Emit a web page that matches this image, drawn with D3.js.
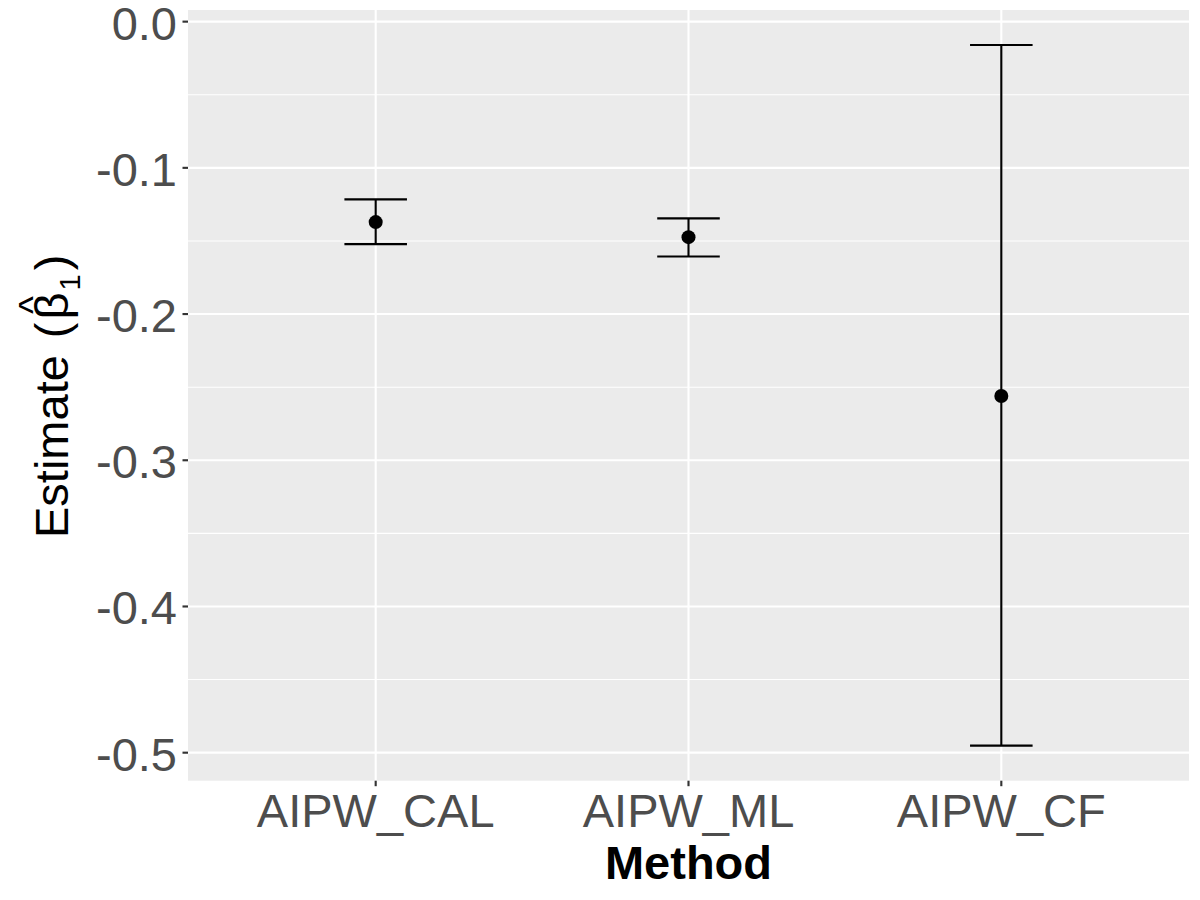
<!DOCTYPE html>
<html>
<head>
<meta charset="utf-8">
<script src="https://cdn.jsdelivr.net/npm/d3@7"></script>
<style>
  html, body { margin: 0; padding: 0; background: #ffffff; }
  svg { display: block; }
  text { font-family: "Liberation Sans", Arial, sans-serif; }
</style>
</head>
<body>
<svg id="chart" width="1200" height="900"></svg>
<script>
// ---- data ----
const methods = ["AIPW_CAL", "AIPW_ML", "AIPW_CF"];
const estimates = [-0.1371, -0.1474, -0.2560];
const lowerCI = [-0.1522, -0.1606, -0.4952];
const upperCI = [-0.1216, -0.1346, -0.0160];
const yTicks = [0.0, -0.1, -0.2, -0.3, -0.4, -0.5];
const yMinor = [-0.05, -0.15, -0.25, -0.35, -0.45];
const yTickLabels = ["0.0", "-0.1", "-0.2", "-0.3", "-0.4", "-0.5"];

// ---- layout ----
const panel = { left: 188, right: 1189, top: 10, bottom: 780.7 };
const svg = d3.select("#chart");

const dMin = d3.min(lowerCI), dMax = d3.max(upperCI);
const pad = (dMax - dMin) * 0.05;
const y = d3.scaleLinear().domain([dMin - pad, dMax + pad]).range([panel.bottom, panel.top]);
const x = d3.scalePoint().domain(methods).range([panel.left, panel.right]).padding(0.6);
const step = x.step();
const capHalf = step * 0.2 / 2;

// panel background
svg.append("rect")
  .attr("x", panel.left).attr("y", panel.top)
  .attr("width", panel.right - panel.left).attr("height", panel.bottom - panel.top)
  .attr("fill", "#EBEBEB");

// minor grid
svg.append("g").selectAll("line").data(yMinor).join("line")
  .attr("x1", panel.left).attr("x2", panel.right)
  .attr("y1", d => y(d)).attr("y2", d => y(d))
  .attr("stroke", "#ffffff").attr("stroke-width", 1.07);

// major grid
svg.append("g").selectAll("line").data(yTicks).join("line")
  .attr("x1", panel.left).attr("x2", panel.right)
  .attr("y1", d => y(d)).attr("y2", d => y(d))
  .attr("stroke", "#ffffff").attr("stroke-width", 2.13);
svg.append("g").selectAll("line").data(methods).join("line")
  .attr("y1", panel.top).attr("y2", panel.bottom)
  .attr("x1", d => x(d)).attr("x2", d => x(d))
  .attr("stroke", "#ffffff").attr("stroke-width", 2.13);

// error bars
const eb = svg.append("g");
methods.forEach((m, i) => {
  const cx = x(m);
  eb.append("line").attr("x1", cx).attr("x2", cx)
    .attr("y1", y(upperCI[i])).attr("y2", y(lowerCI[i]))
    .attr("stroke", "#000").attr("stroke-width", 2.13);
  eb.append("line").attr("x1", cx - capHalf).attr("x2", cx + capHalf)
    .attr("y1", y(upperCI[i])).attr("y2", y(upperCI[i]))
    .attr("stroke", "#000").attr("stroke-width", 2.13);
  eb.append("line").attr("x1", cx - capHalf).attr("x2", cx + capHalf)
    .attr("y1", y(lowerCI[i])).attr("y2", y(lowerCI[i]))
    .attr("stroke", "#000").attr("stroke-width", 2.13);
});

// points
svg.append("g").selectAll("circle").data(methods).join("circle")
  .attr("cx", d => x(d)).attr("cy", (d, i) => y(estimates[i]))
  .attr("r", 7).attr("fill", "#000");

// y axis ticks + labels
const yAx = svg.append("g");
yTicks.forEach((t, i) => {
  yAx.append("line").attr("x1", panel.left - 5.5).attr("x2", panel.left)
    .attr("y1", y(t)).attr("y2", y(t))
    .attr("stroke", "#333333").attr("stroke-width", 2.13);
  yAx.append("text").attr("x", panel.left - 11).attr("y", y(t) + 18)
    .attr("text-anchor", "end").attr("font-size", 47).attr("fill", "#4D4D4D")
    .text(yTickLabels[i]);
});

// x axis ticks + labels
const xAx = svg.append("g");
methods.forEach(m => {
  xAx.append("line").attr("x1", x(m)).attr("x2", x(m))
    .attr("y1", panel.bottom).attr("y2", panel.bottom + 5.5)
    .attr("stroke", "#333333").attr("stroke-width", 2.13);
  xAx.append("text").attr("x", x(m)).attr("y", 827)
    .attr("text-anchor", "middle").attr("font-size", 47).attr("fill", "#4D4D4D")
    .text(m);
});

// x title
svg.append("text").attr("x", (panel.left + panel.right) / 2).attr("y", 878.5)
  .attr("text-anchor", "middle").attr("font-size", 47).attr("font-weight", "bold")
  .attr("fill", "#000").text("Method");

// y title: Estimate (beta-hat_1)
const fs = 47;
const tg = svg.append("g").attr("transform", "translate(68,538) rotate(-90)");
function measure(str, size) {
  const t = tg.append("text").attr("font-size", size).text(str);
  const w = t.node().getComputedTextLength();
  t.remove();
  return w;
}
let cx0 = 0;
tg.append("text").attr("x", cx0).attr("y", 0).attr("font-size", fs).attr("fill", "#000").text("Estimate");
cx0 += measure("Estimate", fs) + 17;
tg.append("text").attr("x", cx0).attr("y", 0).attr("font-size", fs).attr("fill", "#000").text("(");
cx0 += measure("(", fs) + 3;
const betaW = measure("\u03B2", fs);
tg.append("text").attr("x", cx0).attr("y", 0).attr("font-size", fs).attr("fill", "#000").text("\u03B2");
tg.append("text").attr("x", cx0 + betaW / 2 + 1).attr("y", -22).attr("font-size", 38)
  .attr("text-anchor", "middle").attr("fill", "#000").text("^");
cx0 += betaW + 2;
tg.append("text").attr("x", cx0).attr("y", 12).attr("font-size", 29).attr("fill", "#000").text("1");
cx0 += measure("1", 29) + 4;
tg.append("text").attr("x", cx0).attr("y", 0).attr("font-size", fs).attr("fill", "#000").text(")");
</script>
</body>
</html>
